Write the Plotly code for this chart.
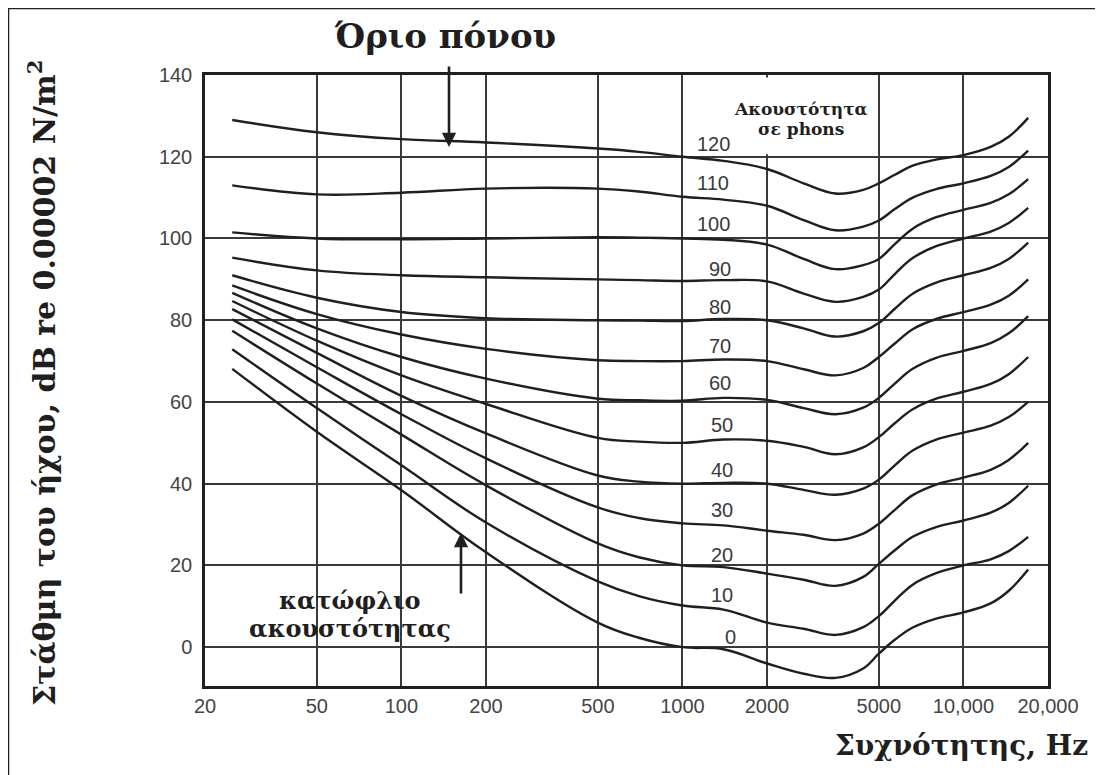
import math
import plotly.graph_objects as go

# ---------------- data ----------------
freq_hz = [25, 50, 100, 200, 500, 700, 1000, 1400, 2000, 2700, 3500, 4400, 5000,
           5700, 6600, 8000, 10000, 12500, 14500, 17000]

phon_levels = [120, 110, 100, 90, 80, 70, 60, 50, 40, 30, 20, 10, 0]

spl_120 = [129, 126, 124.3, 123.5, 122, 121.2, 120, 119, 117, 113.5, 111, 111.9, 113.5, 115.6, 117.8, 119.3, 120.4, 122.4, 124.9, 129.5]
spl_110 = [113, 110.8, 111.2, 112.2, 112.2, 111.5, 110.2, 109.5, 108, 104.5, 102, 102.9, 104.4, 107.2, 110, 112.1, 113.5, 115.3, 117.5, 121.5]
spl_100 = [101.5, 100, 99.8, 100, 100.3, 100.2, 100, 99.7, 98.5, 95, 92.5, 93.5, 95, 98.6, 102.4, 105.2, 107, 108.7, 110.8, 114.5]
spl_90 = [95.3, 92.2, 91, 90.5, 90, 89.8, 89.6, 89.8, 89.5, 86.5, 84.5, 85.7, 87.5, 91.3, 95.2, 98.1, 100, 101.7, 103.8, 107.5]
spl_80 = [91, 85.5, 82, 80.5, 80, 79.9, 79.8, 80.3, 80, 78, 76, 77.3, 79.3, 82.8, 86.5, 89.2, 91, 92.8, 95, 99]
spl_70 = [88.5, 81.5, 76.5, 73, 70.2, 70, 70, 70.4, 70, 68, 66.5, 68.3, 71, 74.3, 77.8, 80.3, 82, 83.8, 86, 90]
spl_60 = [86.7, 78, 71, 65.7, 60.8, 60.4, 60.3, 61, 60.5, 58.5, 57, 58.6, 61, 64.5, 68.1, 70.8, 72.5, 74.4, 76.8, 81]
spl_50 = [84.7, 75, 66.5, 59.5, 51.2, 50.3, 50, 50.8, 50.5, 49, 47.2, 48.9, 51.4, 54.8, 58.2, 60.8, 62.5, 64.4, 66.8, 71]
spl_40 = [82.7, 72, 61.5, 52.3, 42, 40.5, 40, 40.2, 40, 38.5, 37.3, 38.8, 41, 44.5, 48.1, 50.8, 52.5, 54.2, 56.3, 60]
spl_30 = [80.2, 68.5, 57, 46.2, 34.2, 31.6, 30.3, 29.8, 28.5, 27.5, 26.2, 27.8, 30.2, 33.6, 37.2, 39.8, 41.5, 43.4, 45.8, 50]
spl_20 = [77.4, 64.5, 52, 39.6, 25.4, 22, 20, 19.6, 18, 16.5, 15, 17.2, 20.4, 23.7, 27, 29.4, 31, 32.9, 35.3, 39.5]
spl_10 = [72.9, 58.5, 44.5, 30.5, 16.1, 12.5, 10.2, 9.2, 6, 4.5, 3, 4.9, 7.6, 11.4, 15.3, 18.1, 20, 21.5, 23.5, 27]
spl_0 = [68.1, 52.7, 38.4, 23.2, 6, 2.3, 0, -0.5, -4, -6.5, -7.5, -5.2, -1.6, 1.8, 4.8, 7, 8.5, 10.7, 13.8, 19]

x_tick_vals = [20, 50, 100, 200, 500, 1000, 2000, 5000, 10000, 20000]
x_tick_text = ["20", "50", "100", "200", "500", "1000", "2000", "5000", "10,000", "20,000"]
y_tick_vals = [0, 20, 40, 60, 80, 100, 120, 140]

curves = [spl_120, spl_110, spl_100, spl_90, spl_80, spl_70, spl_60,
          spl_50, spl_40, spl_30, spl_20, spl_10, spl_0]

# ---------------- figure ----------------
INK = "#1f1f1f"
GRID = "#3a3a3a"
SERIF = "DejaVu Serif"
SANS = "Liberation Sans"

fig = go.Figure()
for level, vals in zip(phon_levels, curves):
    fig.add_trace(go.Scatter(
        x=freq_hz, y=vals, mode="lines", name=f"{level} phons",
        line=dict(color=INK, width=2.4, shape="spline", smoothing=1.1),
        showlegend=False, hoverinfo="skip"))

# page has an 8 px body margin: figure is 1095x767 so it ends at the window edge
OFF = 8
W, H = 1103 - OFF, 775 - OFF
# plot box in page pixels: x 205..1048, y 75..686
L, R, T, B = 205, 1048, 75, 686


def px(xp):
    return (xp - L) / (R - L)


def py(yp):
    return (B - yp) / (B - T)


annotations = []

# curve labels (phons)
label_pos_x = [713, 713, 713, 720, 720, 720, 720, 722, 722, 722, 722, 722, 730]
label_pos_y = [144, 183, 224, 269, 307, 346, 383, 425, 470, 510, 555, 595, 637]
for level, lx, ly in zip(phon_levels, label_pos_x, label_pos_y):
    annotations.append(dict(
        text=str(level), xref="paper", yref="paper", x=px(lx), y=py(ly),
        xanchor="center", yanchor="middle", showarrow=False,
        font=dict(family=SANS, size=20, color="#3a3a3a")))

# heading of the curve labels
annotations += [
    dict(text="<b>Ακουστότητα</b>", xref="paper", yref="paper", x=px(801), y=py(109),
         xanchor="center", yanchor="middle", showarrow=False,
         font=dict(family=SERIF, size=17, color=INK)),
    dict(text="<b>σε phons</b>", xref="paper", yref="paper", x=px(801), y=py(129),
         xanchor="center", yanchor="middle", showarrow=False,
         font=dict(family=SERIF, size=17, color=INK)),
]

# pain threshold
annotations += [
    dict(text="<b>Όριο πόνου</b>", xref="paper", yref="paper", x=px(445), y=py(36),
         xanchor="center", yanchor="middle", showarrow=False,
         font=dict(family=SERIF, size=34, color=INK)),
    dict(text="", xref="paper", yref="paper", x=px(449), y=py(147),
         ax=0, ay=-82, showarrow=True, arrowhead=2, arrowsize=1.1,
         arrowwidth=2.6, arrowcolor=INK),
]

# hearing threshold
annotations += [
    dict(text="<b>κατώφλιο</b>", xref="paper", yref="paper", x=px(350), y=py(600),
         xanchor="center", yanchor="middle", showarrow=False,
         font=dict(family=SERIF, size=24, color=INK)),
    dict(text="<b>ακουστότητας</b>", xref="paper", yref="paper", x=px(350), y=py(628),
         xanchor="center", yanchor="middle", showarrow=False,
         font=dict(family=SERIF, size=24, color=INK)),
    dict(text="", xref="paper", yref="paper", x=px(461), y=py(533),
         ax=0, ay=62, showarrow=True, arrowhead=2, arrowsize=1.1,
         arrowwidth=2.6, arrowcolor=INK),
]

# axis titles
annotations += [
    dict(text="<b>Στάθμη του ήχου, dB re 0.00002 N/m<sup>2</sup></b>",
         xref="paper", yref="paper", x=px(42), y=py(383), textangle=-90,
         xanchor="center", yanchor="middle", showarrow=False,
         font=dict(family=SERIF, size=30, color=INK)),
    dict(text="<b>Συχνότητης, Hz</b>", xref="paper", yref="paper", x=px(1090), y=py(745),
         xanchor="right", yanchor="middle", showarrow=False,
         font=dict(family=SERIF, size=28, color=INK)),
]

shapes = [
    # outer frame of the scanned page
    dict(type="rect", xref="paper", yref="paper",
         x0=px(8), x1=px(1130), y0=py(800), y1=py(8),
         line=dict(color=INK, width=2.5), fillcolor="rgba(0,0,0,0)", layer="above"),
    # blank box above 120 dB between 1 kHz and 5 kHz (no 2000 gridline there)
    dict(type="rect", xref="paper", yref="y",
         x0=px(686), x1=px(875), y0=120.6, y1=139.4,
         line=dict(width=0), fillcolor="white", layer="above"),
]

fig.update_layout(
    width=W, height=H,
    margin=dict(l=L - OFF, r=1103 - R, t=T - OFF, b=775 - B, pad=0),
    paper_bgcolor="white", plot_bgcolor="white",
    showlegend=False,
    annotations=annotations,
    shapes=shapes,
    xaxis=dict(
        type="log", range=[math.log10(20), math.log10(20000)],
        tickvals=x_tick_vals, ticktext=x_tick_text,
        showgrid=True, gridcolor=GRID, gridwidth=1.6,
        showline=True, linecolor=INK, linewidth=2.5, mirror=True,
        ticks="", zeroline=False, ticklabelstandoff=0,
        tickfont=dict(family=SANS, size=20, color="#444444")),
    yaxis=dict(
        range=[-9.5, 140], tickvals=y_tick_vals,
        showgrid=True, gridcolor=GRID, gridwidth=1.6,
        showline=True, linecolor=INK, linewidth=2.5, mirror=True,
        ticks="", zeroline=False, ticklabelstandoff=6,
        tickfont=dict(family=SANS, size=20, color="#444444")),
)

fig.write_html("out.html")
